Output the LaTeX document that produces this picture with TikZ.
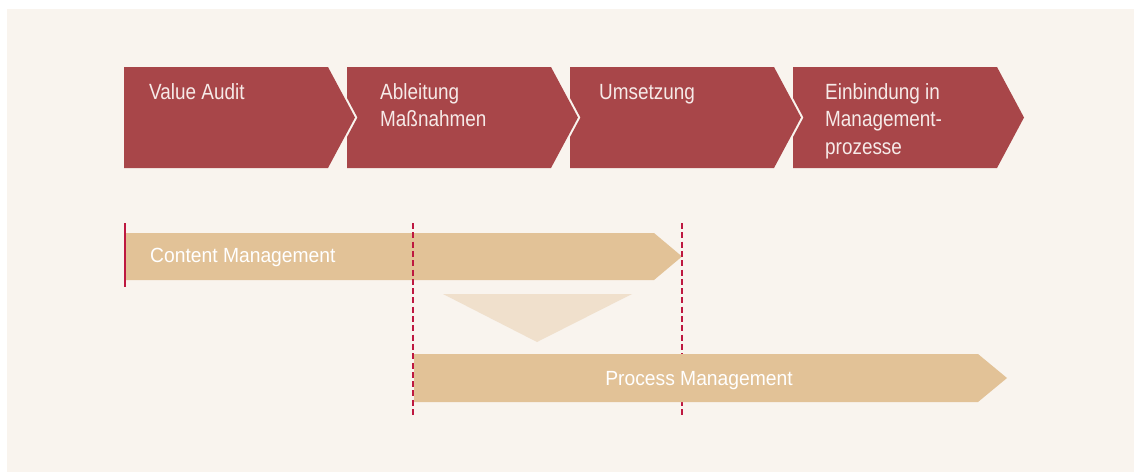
\documentclass[tikz,border=0pt]{standalone}
\usepackage{fontspec}
\setmainfont{Liberation Sans}[FakeStretch=0.86]
\newfontfamily\barfont{Liberation Sans}[FakeStretch=0.94]
\definecolor{paper}{RGB}{249,244,238}
\definecolor{wine}{RGB}{168,70,73}
\definecolor{sand}{RGB}{226,194,151}
\definecolor{palesand}{RGB}{240,224,204}
\definecolor{crimson}{RGB}{190,24,64}
\definecolor{phaseink}{RGB}{246,234,232}

\begin{document}
\begin{tikzpicture}[x=1pt,y=-1pt,
  phase/.style={fill=wine},
  bar/.style={fill=sand},
  phasetext/.style={text=phaseink, font=\fontsize{22}{27.7}\selectfont, align=left, anchor=base west, inner sep=0pt},
  bartext/.style={text=white, font=\barfont\fontsize{20.5}{24}\selectfont, inner sep=0pt},
  marker/.style={crimson, line width=2.1pt, dash pattern=on 6pt off 3.3pt}]
\useasboundingbox (0,0) rectangle (1134,472);
\fill[white] (0,0) rectangle (1134,472);
\fill[paper] (7,9) rectangle (1134,472);

% phases
\fill[phase] (124,67) -- (328,67) -- (355,117.5) -- (328,168) -- (124,168) -- cycle;
\fill[phase] (347,67) -- (551,67) -- (578,117.5) -- (551,168) -- (347,168) -- (347,137.1) -- (357.5,117.5) -- (347,97.9) -- cycle;
\fill[phase] (570,67) -- (774,67) -- (801,117.5) -- (774,168) -- (570,168) -- (570,137.1) -- (580.5,117.5) -- (570,97.9) -- cycle;
\fill[phase] (793,67) -- (997,67) -- (1024,117.5) -- (997,168) -- (793,168) -- (793,137.1) -- (803.5,117.5) -- (793,97.9) -- cycle;
% base of a multi-line node sits on its last line
\node[phasetext] (audit) at (149,99) {Value Audit};
\node[phasetext] (derive) at (380,126.7) {Ableitung\\Maßnahmen};
\node[phasetext] (realize) at (599,99) {Umsetzung};
\node[phasetext] (embed) at (825,154.4) {Einbindung in\\Management-\\prozesse};

% content management
\fill[bar] (125,233) -- (654,233) -- (682,256.5) -- (654,280) -- (125,280) -- cycle;
\node[bartext, anchor=base west] (content) at (150,262.7) {Content Management};
\fill[palesand] (443,294) -- (632,294) -- (537,342) -- cycle;

% markers
\coordinate (start) at (125,223);
\coordinate (startend) at (125,287);
\coordinate (cut1) at (412.7,223);
\coordinate (cut1end) at (412.7,416);
\coordinate (cut2) at (682,223);
\coordinate (cut2end) at (682,416);
\draw[crimson, line width=1.5pt] (start) -- (startend);
\draw[marker] (cut1) -- (cut1end);
\draw[marker] (cut2) -- (cut2end);

% process management
\fill[bar] (414,354) -- (978,354) -- (1007,378) -- (978,402) -- (414,402) -- cycle;
\node[bartext, anchor=base] (process) at (699,385) {Process Management};
\end{tikzpicture}
\end{document}
